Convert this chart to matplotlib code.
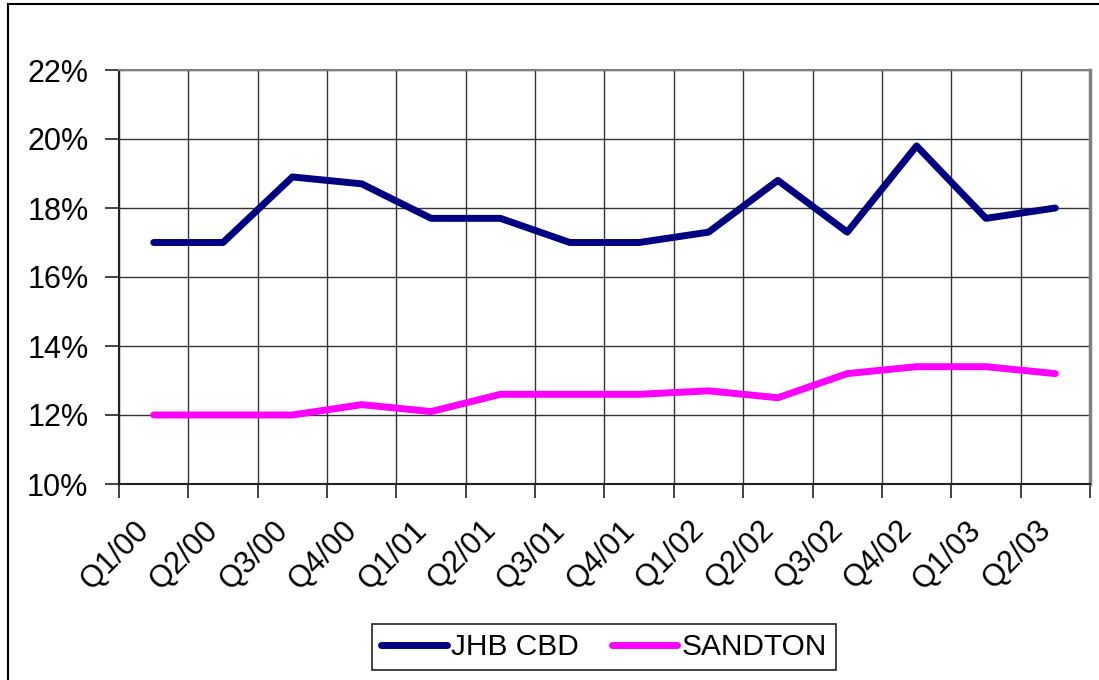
import numpy as np
import matplotlib.pyplot as plt
from matplotlib.patches import Rectangle
from matplotlib.ticker import FuncFormatter, MultipleLocator
from matplotlib.transforms import ScaledTranslation

plt.rcParams['font.family'] = ['Liberation Sans', 'DejaVu Sans']

quarters = ["Q1/00", "Q2/00", "Q3/00", "Q4/00", "Q1/01", "Q2/01", "Q3/01",
            "Q4/01", "Q1/02", "Q2/02", "Q3/02", "Q4/02", "Q1/03", "Q2/03"]
jhb_cbd = [17.0, 17.0, 18.9, 18.7, 17.7, 17.7, 17.0,
           17.0, 17.3, 18.8, 17.3, 19.8, 17.7, 18.0]
sandton = [12.0, 12.0, 12.0, 12.3, 12.1, 12.6, 12.6,
           12.6, 12.7, 12.5, 13.2, 13.4, 13.4, 13.2]

W, H = 1099, 680
fig = plt.figure(figsize=(W / 100, H / 100), dpi=100)
ax = fig.add_axes([119 / W, 1 - 484 / H, (1090 - 119) / W, (484 - 70) / H])

x = np.arange(len(quarters))
ax.plot(x, jhb_cbd, color="#000080", lw=5, solid_capstyle="round",
        solid_joinstyle="round", label="JHB CBD", zorder=3)
ax.plot(x, sandton, color="#FF00FF", lw=5, solid_capstyle="round",
        solid_joinstyle="round", label="SANDTON", zorder=3)

ax.set_xlim(-0.5, len(quarters) - 0.5)
ax.set_ylim(10, 22)

# y axis: 2% steps with gridlines
ax.yaxis.set_major_locator(MultipleLocator(2))
ax.yaxis.set_major_formatter(FuncFormatter(lambda v, _: f"{v:.0f}%"))
ax.tick_params(axis="y", which="major", length=10, width=1.2, color="#222",
               labelsize=22, pad=12)

# x axis: tick marks and gridlines on category boundaries, labels at centres
ax.set_xticks(x)
ax.set_xticks(np.arange(-0.5, len(quarters)), minor=True)
ax.tick_params(axis="x", which="major", length=0, pad=30)
ax.tick_params(axis="x", which="minor", length=10, width=1.2, color="#222")
ax.set_xticklabels(quarters, rotation=45, ha="right", va="center",
                   rotation_mode="anchor", fontsize=22)
shift = ScaledTranslation(-9 / 100, 0, fig.dpi_scale_trans)
for lbl in ax.get_xticklabels():
    lbl.set_transform(lbl.get_transform() + shift)

ax.grid(True, axis="y", which="major", color="#333", lw=1.0)
ax.grid(True, axis="x", which="minor", color="#333", lw=1.0)
ax.set_axisbelow(True)

for side in ("left", "bottom"):
    ax.spines[side].set_color("#222")
    ax.spines[side].set_linewidth(1.5)
ax.spines["top"].set_color("#808080")
ax.spines["top"].set_linewidth(1.5)
ax.spines["right"].set_color("#808080")
ax.spines["right"].set_linewidth(2.5)

leg = fig.legend(loc="center", bbox_to_anchor=(604 / W, 1 - 647 / H), ncol=2,
                 fontsize=21.5, handlelength=2.2, handletextpad=0.15,
                 columnspacing=1.1, borderpad=0.3, fancybox=False,
                 framealpha=1)
leg.get_frame().set_edgecolor("#222")
leg.get_frame().set_linewidth(1.2)

# outer chart border
fig.add_artist(Rectangle((8 / W, -0.1), 1.2, 1.1 - 4 / H, transform=fig.transFigure,
                         fill=False, lw=1.5, ec="black", clip_on=False))

fig.savefig("out.png", dpi=100)
